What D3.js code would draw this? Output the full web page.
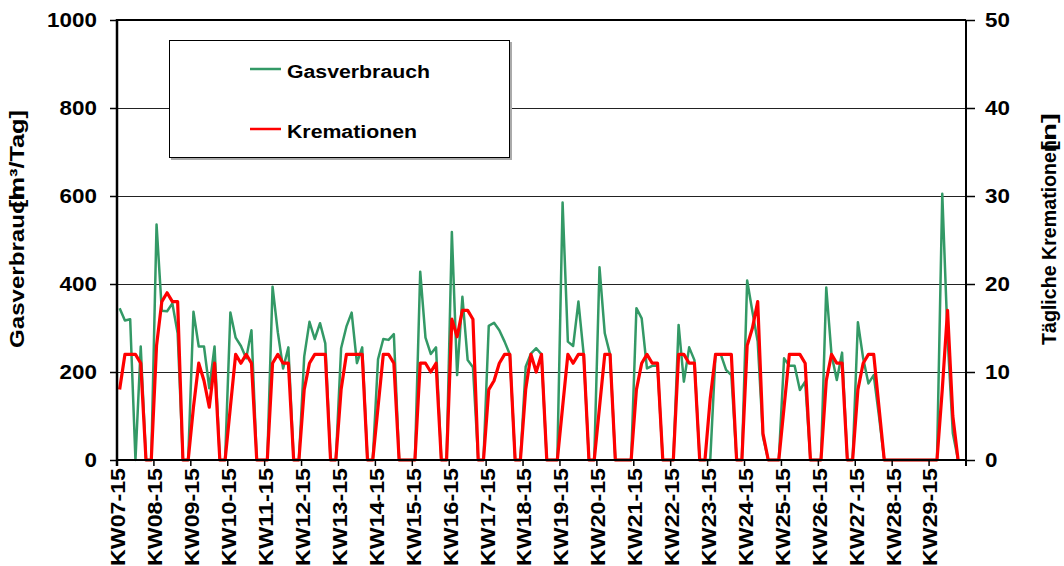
<!DOCTYPE html>
<html><head>
<meta charset="utf-8">
<title>Gasverbrauch und Kremationen</title>
<script src="https://d3js.org/d3.v7.min.js"></script>
<style>
  body { margin: 0; background: #fff; }
  text { font-family: "Liberation Sans", Arial, sans-serif; font-weight: bold; fill: #000; }
</style>
</head>
<body>
<svg id="chart" width="1064" height="566"></svg>
<script>

// week labels on the category axis (one label every 7 days)
const weekLabels = ["KW07-15","KW08-15","KW09-15","KW10-15","KW11-15","KW12-15","KW13-15","KW14-15",
  "KW15-15","KW16-15","KW17-15","KW18-15","KW19-15","KW20-15","KW21-15","KW22-15","KW23-15",
  "KW24-15","KW25-15","KW26-15","KW27-15","KW28-15","KW29-15"];

// daily gas consumption [m3/Tag] (Mon..Sun per week)
const gasverbrauch = [
  345,317,320,0,258,0,0,
  535,339,338,356,288,0,0,
  337,258,258,163,258,0,0,
  335,278,259,231,295,0,0,
  0,394,290,208,256,0,0,
  235,314,275,311,265,0,0,
  254,303,335,220,256,0,0,
  229,275,273,286,0,0,0,
  0,428,278,241,256,0,0,
  518,193,371,227,211,0,0,
  305,312,295,269,240,0,0,
  212,242,254,240,0,0,0,
  585,269,259,360,240,0,0,
  438,288,240,0,0,0,0,
  345,322,208,214,214,0,0,
  0,307,178,256,227,0,0,
  0,240,240,205,193,0,0,
  408,337,269,53,0,0,0,
  231,214,214,159,178,0,0,
  0,392,239,182,244,0,0,
  313,231,174,193,100,0,0,
  0,0,0,0,0,0,0,
  0,0,605,280,61,0
];

// daily cremations [n]
const kremationen = [
  8,12,12,12,11,0,0,
  13,18,19,18,18,0,0,
  6,11,9,6,11,0,0,
  6,12,11,12,11,0,0,
  0,11,12,11,11,0,0,
  8,11,12,12,12,0,0,
  8,12,12,12,12,0,0,
  6,12,12,11,0,0,0,
  0,11,11,10,11,0,0,
  16,14,17,17,16,0,0,
  8,9,11,12,12,0,0,
  8,12,10,12,0,0,0,
  6,12,11,12,12,0,0,
  6,12,12,0,0,0,0,
  8,11,12,11,11,0,0,
  0,12,12,11,11,0,0,
  7,12,12,12,12,0,0,
  13,15,18,3,0,0,0,
  6,12,12,12,11,0,0,
  0,9,12,11,11,0,0,
  8,11,12,12,6,0,0,
  0,0,0,0,0,0,0,
  0,0,8,17,5,0
];

const leftTicks = [0,200,400,600,800,1000];
const rightTicks = [0,10,20,30,40,50];
const gridTicks = [200,400,600,800];

const svg = d3.select("#chart");
const plotLeft = 117, plotRight = 966, plotTop = 20, plotBottom = 460;
const nDays = weekLabels.length * 7;

// category axis: one slot per day, point drawn in middle of its slot
const x = d3.scaleLinear().domain([0, nDays]).range([plotLeft, plotRight]);
const yL = d3.scaleLinear().domain([0, 1000]).range([plotBottom, plotTop]);
const yR = d3.scaleLinear().domain([0, 50]).range([plotBottom, plotTop]);

// gridlines
svg.append("g").selectAll("line").data(gridTicks).join("line")
   .attr("x1", plotLeft).attr("x2", plotRight)
   .attr("y1", d => yL(d) + 0.5).attr("y2", d => yL(d) + 0.5)
   .attr("stroke", "#222").attr("stroke-width", 1);

// legend box (covers the 800 gridline)
const legend = svg.append("g");
legend.append("rect").attr("x", 171).attr("y", 42).attr("width", 341).attr("height", 118).attr("fill", "#aaa");
legend.append("rect").attr("x", 169.5).attr("y", 40.5).attr("width", 340).attr("height", 117)
      .attr("fill", "#fff").attr("stroke", "#000").attr("stroke-width", 1);
const legendItems = [
  {name: "Gasverbrauch", color: "#339966", y: 69},
  {name: "Kremationen", color: "#ff0000", y: 129}
];
legendItems.forEach(item => {
  legend.append("line").attr("x1", 250).attr("x2", 281).attr("y1", item.y).attr("y2", item.y)
        .attr("stroke", item.color).attr("stroke-width", 2.5);
  legend.append("text").attr("transform", "translate(287," + (item.y + 9) + ") scale(1.12,1)")
        .attr("font-size", 19).text(item.name);
});

// series lines
const gasLine = d3.line().x((d, i) => x(i + 0.5)).y(d => yL(d));
const kremLine = d3.line().x((d, i) => x(i + 0.5)).y(d => yR(d));

svg.append("path").datum(gasverbrauch).attr("d", gasLine)
   .attr("fill", "none").attr("stroke", "#339966").attr("stroke-width", 2.5).attr("stroke-linejoin", "round");
svg.append("path").datum(kremationen).attr("d", kremLine)
   .attr("fill", "none").attr("stroke", "#ff0000").attr("stroke-width", 3.2).attr("stroke-linejoin", "round");

// plot frame
const frame = svg.append("g").attr("stroke", "#000");
frame.append("line").attr("x1", plotLeft).attr("x2", plotRight).attr("y1", plotTop).attr("y2", plotTop).attr("stroke-width", 2);
frame.append("line").attr("x1", plotRight).attr("x2", plotRight).attr("y1", plotTop).attr("y2", plotBottom + 6).attr("stroke-width", 2);
frame.append("line").attr("x1", plotLeft).attr("x2", plotLeft).attr("y1", plotTop - 1).attr("y2", plotBottom + 6).attr("stroke-width", 2.5);
frame.append("line").attr("x1", plotLeft).attr("x2", plotRight).attr("y1", plotBottom).attr("y2", plotBottom).attr("stroke-width", 2);

// left axis
const axL = svg.append("g").attr("transform", "translate(" + plotLeft + ",0)")
   .call(d3.axisLeft(yL).tickValues(leftTicks).tickFormat(d3.format("d")).tickSize(7).tickPadding(11));
axL.select(".domain").remove();
axL.selectAll(".tick line").attr("stroke", "#000").attr("stroke-width", 1.5);
axL.selectAll(".tick text").attr("font-size", 20).attr("font-family", null)
   .attr("transform", "scale(1.12,1)");

// right axis
const axR = svg.append("g").attr("transform", "translate(" + plotRight + ",0)")
   .call(d3.axisRight(yR).tickValues(rightTicks).tickFormat(d3.format("d")).tickSize(9).tickPadding(8));
axR.select(".domain").remove();
axR.selectAll(".tick line").attr("stroke", "#000").attr("stroke-width", 1.5);
axR.selectAll(".tick text").attr("font-size", 20).attr("font-family", null)
   .attr("transform", "scale(1.12,1)");

// category ticks every 7 days
svg.append("g").selectAll("line").data(d3.range(0, nDays + 1, 7)).join("line")
   .attr("x1", d => x(d)).attr("x2", d => x(d))
   .attr("y1", plotBottom).attr("y2", plotBottom + 6)
   .attr("stroke", "#000").attr("stroke-width", 1.5);

// rotated week labels
svg.append("g").selectAll("text").data(weekLabels).join("text")
   .attr("transform", (d, i) => "translate(" + x(7 * i) + ",468) rotate(-90)")
   .attr("text-anchor", "end").attr("dy", "0.4em")
   .attr("font-size", 21).attr("textLength", 98).attr("lengthAdjust", "spacingAndGlyphs")
   .text(d => d);

// axis titles (bracket part overlaps the word, like the original)
svg.append("text").attr("transform", "translate(24,348) rotate(-90)")
   .attr("font-size", 21).attr("textLength", 162).attr("lengthAdjust", "spacingAndGlyphs")
   .text("Gasverbrauch");
svg.append("text").attr("transform", "translate(24,208) rotate(-90)")
   .attr("font-size", 21).attr("textLength", 98).attr("lengthAdjust", "spacingAndGlyphs")
   .text("[m³/Tag]");
svg.append("text").attr("transform", "translate(1056,345) rotate(-90)")
   .attr("font-size", 20).attr("textLength", 205).attr("lengthAdjust", "spacingAndGlyphs")
   .text("Tägliche Kremationen");
svg.append("text").attr("transform", "translate(1056,151) rotate(-90)")
   .attr("font-size", 20).attr("textLength", 38).attr("lengthAdjust", "spacingAndGlyphs")
   .text("[n]");

</script>
</body>
</html>
